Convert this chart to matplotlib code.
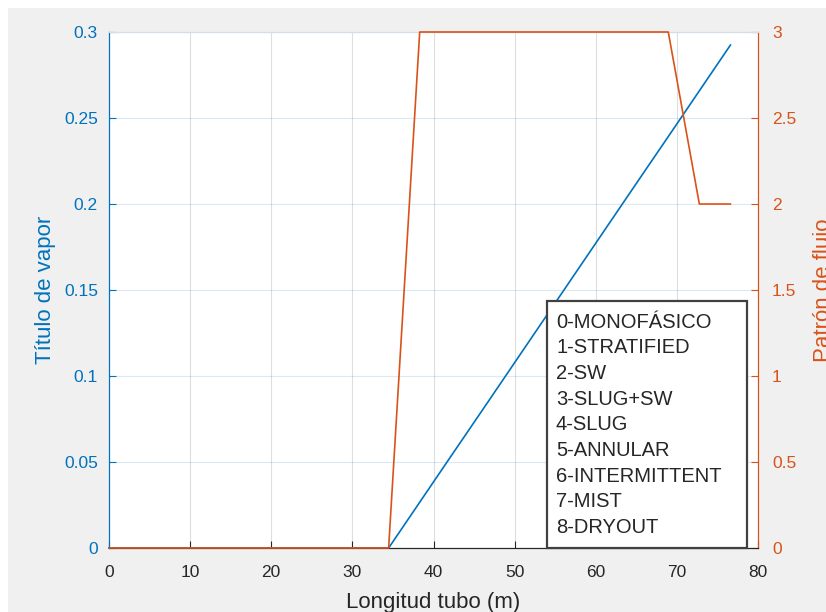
import matplotlib
matplotlib.use("Agg")
from matplotlib import pyplot as plt
from matplotlib.patches import Rectangle

plt.rcParams['font.family'] = ['Liberation Sans', 'DejaVu Sans']

# tube length (m)
longitud = [0.0, 3.83, 7.66, 11.49, 15.32, 19.15, 22.98, 26.81, 30.64, 34.47,
            38.3, 42.13, 45.96, 49.79, 53.62, 57.45, 61.28, 65.11, 68.94, 72.77, 76.6]
# vapour quality
titulo = [0, 0, 0, 0, 0, 0, 0, 0, 0, 0,
          0.0266, 0.0532, 0.0797, 0.1063, 0.1329, 0.1595, 0.1861, 0.2127, 0.2392, 0.2658, 0.2924]
# flow pattern code
patron = [0, 0, 0, 0, 0, 0, 0, 0, 0, 0,
          3, 3, 3, 3, 3, 3, 3, 3, 3, 2, 2]

leyenda = ['0-MONOFÁSICO', '1-STRATIFIED', '2-SW', '3-SLUG+SW', '4-SLUG',
           '5-ANNULAR', '6-INTERMITTENT', '7-MIST', '8-DRYOUT']

azul = '#0072BD'
naranja = '#D95319'
gris = '#262626'

fig = plt.figure(figsize=(8.26, 6.12), dpi=100)
fig.patch.set_facecolor('#f0f0f0')
# white strip at top/left of the screenshot
fig.patches.append(Rectangle((0, 1 - 8/612), 1, 8/612, transform=fig.transFigure,
                             facecolor='white', edgecolor='none', zorder=-1))
fig.patches.append(Rectangle((0, 0), 8/826, 1, transform=fig.transFigure,
                             facecolor='white', edgecolor='none', zorder=-1))

W, H = 826, 612
ax = fig.add_axes([109/W, 1 - 548/H, (758-109)/W, (548-32)/H])
ax2 = ax.twinx()

ax.plot(longitud, titulo, color=azul, lw=1.2, zorder=3, clip_on=False)
ax2.plot(longitud, patron, color=naranja, lw=1.2, zorder=3, clip_on=False)

ax.set_xlim(0, 80)
ax.set_ylim(0, 0.3)
ax2.set_ylim(0, 3)
ax.set_xticks(range(0, 81, 10))
ax.set_yticks([0, 0.05, 0.1, 0.15, 0.2, 0.25, 0.3])
ax.set_yticklabels(['0', '0.05', '0.1', '0.15', '0.2', '0.25', '0.3'])
ax2.set_yticks([0, 0.5, 1, 1.5, 2, 2.5, 3])
ax2.set_yticklabels(['0', '0.5', '1', '1.5', '2', '2.5', '3'])

# grids: vertical gray, horizontal bluish (MATLAB yyaxis style)
ax.xaxis.grid(True, color=gris, alpha=0.15, lw=0.8)
ax.yaxis.grid(True, color=azul, alpha=0.15, lw=0.8)
ax.set_axisbelow(True)

fs = 12.5
ax.tick_params(axis='x', direction='in', colors=gris, labelsize=fs, length=5, pad=12)
ax.tick_params(axis='y', direction='in', colors=azul, labelsize=fs, length=5, pad=8)
ax2.tick_params(axis='y', direction='in', colors=naranja, labelsize=fs, length=5, pad=10)

for a in (ax, ax2):
    a.spines['left'].set_color(azul)
    a.spines['right'].set_color(naranja)
    a.spines['bottom'].set_color(gris)
    a.spines['top'].set_color('#d5dde6')

ax.set_xlabel('Longitud tubo (m)', fontsize=16, color=gris, labelpad=9)
ax.set_ylabel('Título de vapor', fontsize=16, color=azul, labelpad=6)
# right label runs off the figure edge, as in the reference screenshot
ax2.set_ylabel('Patrón de flujo', fontsize=16, color=naranja, labelpad=12)

# legend-like text box
bx0, bx1 = (547-109)/649, (747-109)/649
by1 = (548-301)/516
ax2.add_patch(Rectangle((bx0, 0), bx1 - bx0, by1, transform=ax2.transAxes,
                        facecolor='white', edgecolor='#404040', lw=1.6, zorder=5,
                        clip_on=False))
for i, txt in enumerate(leyenda):
    y = (548 - (322 + i * 25.7)) / 516
    ax2.text((556-109)/649, y, txt, transform=ax2.transAxes, fontsize=14.5,
             color=gris, va='center', ha='left', zorder=6)

fig.savefig('out.png', dpi=100, facecolor=fig.get_facecolor())
